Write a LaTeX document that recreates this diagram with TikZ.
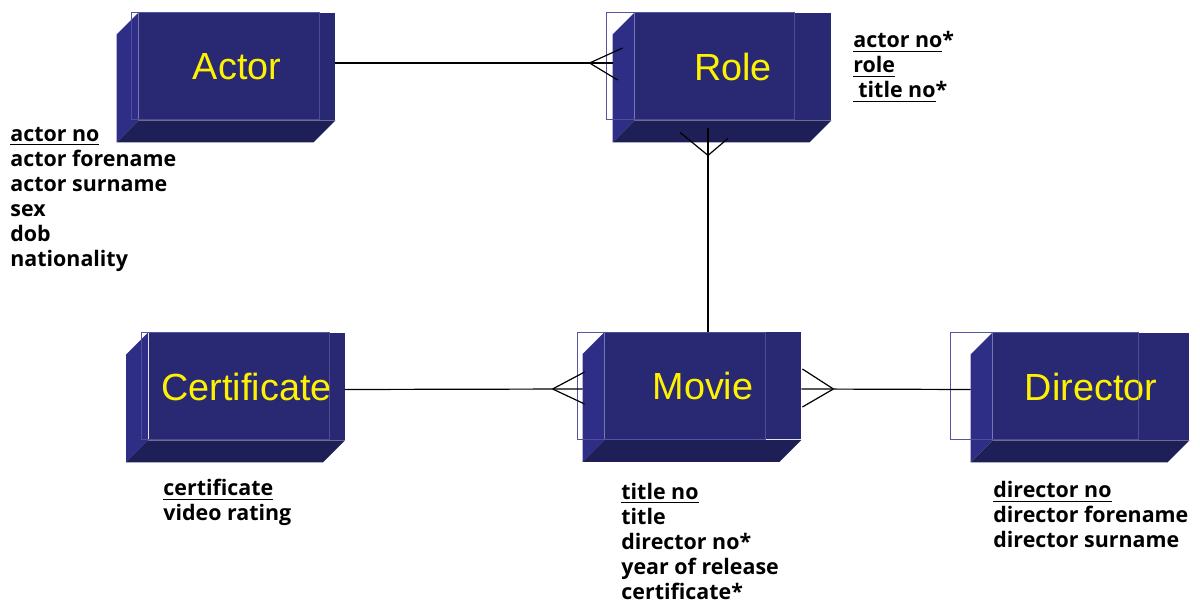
\documentclass[tikz,border=0pt]{standalone}
\usepackage{fontspec}
\setmainfont{Liberation Sans}
\newfontfamily\attrfont{Open Sans}
\usepackage{tikz}
\usetikzlibrary{positioning,backgrounds}
\definecolor{facecol}{RGB}{41,41,115}
\definecolor{sidecol}{RGB}{46,46,135}
\definecolor{basecol}{RGB}{31,31,88}
\definecolor{edgecol}{RGB}{62,62,150}

\begin{document}
\begin{tikzpicture}[x=0.5pt, y=-0.5pt]
\tikzstyle{entity} = [rectangle, fill=facecol, minimum width=98pt, minimum height=53.5pt, inner sep=0pt, text=yellow, font=\fontsize{18.9}{22}\selectfont]
\tikzstyle{attrs} = [anchor=base west, align=left, inner sep=0pt, font=\attrfont\bfseries\fontsize{10.7}{12.5}\selectfont]
\tikzstyle{rel} = [draw=black, line width=0.6pt]
\useasboundingbox (0,0) rectangle (1200,603);

% entities
\node (actor) [entity] at (237,66.5) {Actor};
\node (role) [entity] at (733,66.5) {Role};
\node (cert) [entity] at (246.5,386.5) {Certificate};
\node (movie) [entity] at (703,386) {Movie};
\node (director) [entity] at (1091,386.5) {Director};

% outline and faces of the boxes
\begin{scope}[on background layer]
\foreach \e/\s in {actor/7, role/28, cert/7, movie/27, director/42}
  \draw [edgecol, fill=white, line width=0.5pt] ([shift={(-\s,0)}]\e.north west) rectangle ++(188,107);
\foreach \e in {actor, role, cert, movie, director} {
  \fill [sidecol] (\e.north west) -- ++(-22,22) -- ([shift={(-22,22)}]\e.south west) -- (\e.south west) -- cycle;
  \fill [basecol] (\e.south west) -- (\e.south east) -- ++(-22,22) -- ([shift={(-22,22)}]\e.south west) -- cycle;
}
\end{scope}
\foreach \e/\s in {actor/7, role/28, cert/7, movie/27, director/42}
  \draw [edgecol!80!white, opacity=0.6, line width=0.5pt] ([shift={(-\s,0)}]\e.north west) rectangle ++(188,107);

% relationships
\draw [rel] ([yshift=1.75pt]actor.east) -- ([shift={(-22,0)}, yshift=1.75pt]role.west);
\coordinate (rolefoot) at ([shift={(-45,0)}, yshift=1.75pt]role.west);
\draw [rel] (rolefoot) -- ++(33,-15) (rolefoot) -- ++(28,17);

\draw [rel] ([shift={(-25,8)}]role.south) -- ([shift={(5,0)}]movie.north);
\coordinate (castfoot) at ([shift={(-25,35)}]role.south);
\draw [rel] (castfoot) -- ++(-28,-23) (castfoot) -- ++(20,-17);

\draw [rel] ([yshift=-1.5pt]cert.east) -- ([shift={(-22,0)}, yshift=-1.5pt]movie.west);
\coordinate (certfoot) at ([shift={(-52,0)}, yshift=-1.5pt]movie.west);
\draw [rel] (certfoot) -- ++(32,-17) (certfoot) -- ++(32,15);

\draw [rel] ([yshift=-1.5pt]movie.east) -- ([shift={(-22,0)}, yshift=-1.5pt]director.west);
\coordinate (dirfoot) at ([shift={(32,0)}, yshift=-1.5pt]movie.east);
\draw [rel] (dirfoot) -- ++(-31,-20) (dirfoot) -- ++(-31,18);

% attributes (anchored at the baseline of the last line)
\node (actorattr) [attrs] at (10,266.5) {\underline{actor no}\\actor forename\\actor surname\\sex\\dob\\nationality};
\node (roleattr) [attrs] at (853,98) {\underline{actor no}*\\\underline{role}\\\underline{\hspace{2.5pt}title no}*};
\node (certattr) [attrs] at (163,521) {\underline{certificate}\\video rating};
\node (movieattr) [attrs] at (621,599.5) {\underline{title no}\\title\\director no*\\year of release\\certificate*};
\node (dirattr) [attrs] at (993,548) {\underline{director no}\\director forename\\director surname};
\end{tikzpicture}
\end{document}
